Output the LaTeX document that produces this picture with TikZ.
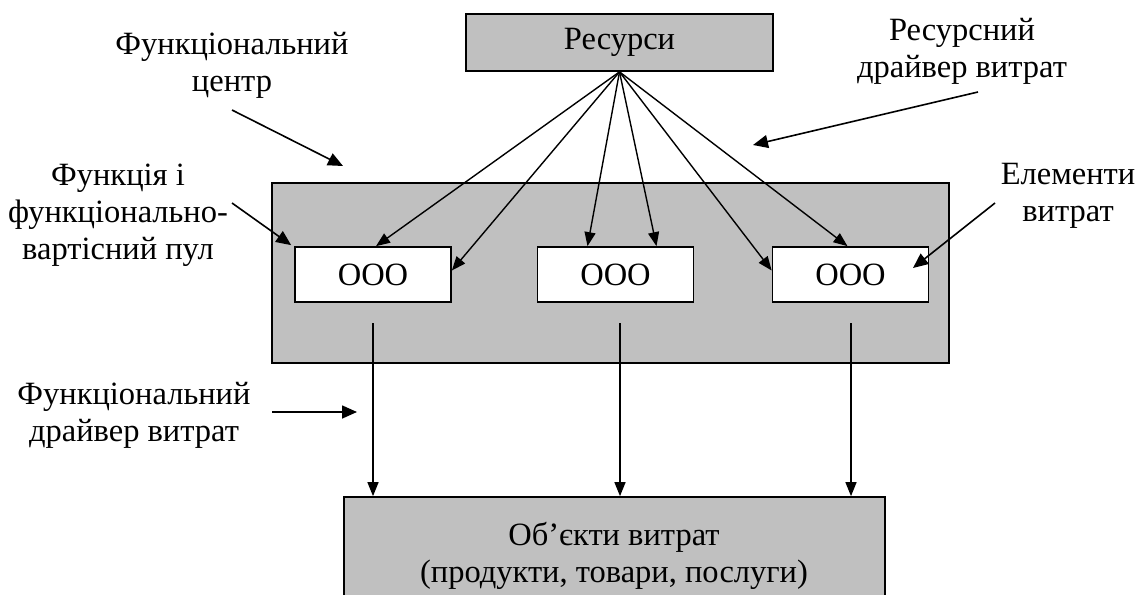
\documentclass[tikz,border=0pt]{standalone}
\usepackage{fontspec}
\setmainfont{Liberation Serif}
\usetikzlibrary{arrows.meta,calc}
\definecolor{boxgray}{RGB}{192,192,192}
\begin{document}
\begin{tikzpicture}[x=1pt,y=-1pt,
  every node/.style={font=\fontsize{32.5}{37}\selectfont},
  graybox/.style={draw, fill=boxgray, line width=1.7pt, inner sep=0pt},
  whitebox/.style={draw, fill=white, line width=1.7pt, inner sep=0pt, minimum width=156pt, minimum height=55pt},
  lbl/.style={align=center, inner sep=0pt},
  feed/.style={-{Triangle[length=14pt,width=11pt]}, line width=1.4pt},
  pointer/.style={-{Triangle[length=15pt,width=13pt]}, line width=1.6pt}]
\useasboundingbox (0,0) rectangle (1142,594);
% boxes
\node[graybox, minimum width=307pt, minimum height=57pt] (res) at (619.5,42.5) {Ресурси};
\node[graybox, minimum width=677pt, minimum height=180pt] (fc) at (610.5,273) {};
\node[whitebox] (b1) at (373,274.5) {ООО};
\node[whitebox] (b2) at (615.5,274.5) {ООО};
\node[whitebox] (b3) at (850.5,274.5) {ООО};
\node[graybox, minimum width=541pt, minimum height=120pt] (obj) at (614.5,557) {};
\node[lbl] (objt) at (614,556) {Об’єкти витрат\\(продукти, товари, послуги)};
% labels
\node[lbl] (lfc) at (232,65) {Функціональний\\центр};
\node[lbl] (lrd) at (962,51) {Ресурсний\\драйвер витрат};
\node[lbl] (lfp) at (118,215) {Функція і\\функціонально-\\вартісний пул};
\node[lbl] (lev) at (1068,196) {Елементи\\витрат};
\node[lbl] (lfd) at (134,415) {Функціональний\\драйвер витрат};
% resource arrows
\draw[feed] (res.south) -- ([xshift=3pt]b1.north);
\draw[feed] (res.south) -- ([yshift=4pt]b1.east);
\draw[feed] (res.south) -- ([xshift=-28pt]b2.north);
\draw[feed] (res.south) -- ([xshift=41pt]b2.north);
\draw[feed] (res.south) -- ([yshift=4pt]b3.west);
\draw[feed] (res.south) -- ([xshift=-3pt]b3.north);
% vertical arrows
\coordinate (v1) at (373,323);
\coordinate (v2) at (620,323);
\coordinate (v3) at (851,323);
\draw[feed] (v1) -- (v1 |- obj.north);
\draw[feed] (v2) -- (v2 |- obj.north);
\draw[feed] (v3) -- (v3 |- obj.north);
% label pointers
\coordinate (pfc1) at (232,110); \coordinate (pfc2) at (343,166);
\coordinate (prd1) at (978,92);  \coordinate (prd2) at (753,145);
\coordinate (pfp1) at (232,203);
\coordinate (pev1) at (995,203); \coordinate (pev2) at (913,268);
\coordinate (pfd1) at (272,412); \coordinate (pfd2) at (357,412);
\draw[pointer] (pfc1) -- (pfc2);
\draw[pointer] (prd1) -- (prd2);
\draw[pointer] (pfp1) -- ([shift={(-3pt,1pt)}]b1.north west);
\draw[pointer] (pev1) -- (pev2);
\draw[pointer] (pfd1) -- (pfd2);
\end{tikzpicture}
\end{document}
